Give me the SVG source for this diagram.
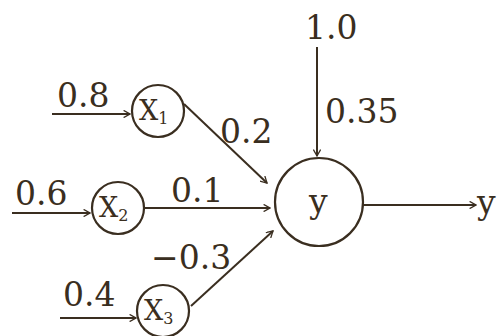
<svg xmlns="http://www.w3.org/2000/svg" width="504" height="336" viewBox="0 0 504 336">
<style>
.t{font-family:"DejaVu Serif","Liberation Serif",serif;font-size:33px;fill:#3a2e20}
.n{font-family:"DejaVu Serif","Liberation Serif",serif;font-size:27px;fill:#3a2e20}
.s{font-size:16px}
.c{fill:none;stroke:#3a2e20;stroke-width:2.2}
.l{fill:none;stroke:#3a2e20;stroke-width:2;marker-end:url(#ah)}
</style>
<defs>
<marker id="ah" viewBox="0 0 10 10" refX="9" refY="5" markerWidth="8" markerHeight="8" markerUnits="userSpaceOnUse" orient="auto">
<path d="M1,0.5 L9,5 L1,9.5" fill="none" stroke="#3a2e20" stroke-width="1.6"/>
</marker>
</defs>
<rect width="504" height="336" fill="#ffffff"/>
<g id="connectors">
<line class="l" x1="52" y1="114" x2="130" y2="114"/>
<line class="l" x1="12" y1="213" x2="90" y2="213"/>
<line class="l" x1="60" y1="318" x2="136" y2="318"/>
<line class="l" x1="184" y1="104" x2="267" y2="183"/>
<line class="l" x1="145" y1="208" x2="270" y2="208"/>
<line class="l" x1="191" y1="306" x2="273" y2="231"/>
<line class="l" x1="317" y1="47" x2="317" y2="156"/>
<line class="l" x1="363" y1="205" x2="476" y2="205"/>
<text class="t" x="57" y="107">0.8</text>
<text class="t" x="15" y="205">0.6</text>
<text class="t" x="63" y="306">0.4</text>
<text class="t" x="220" y="143">0.2</text>
<text class="t" x="171" y="202">0.1</text>
<text class="t" x="151" y="269">−0.3</text>
<text class="t" x="305" y="39">1.0</text>
<text class="t" x="325" y="123">0.35</text>
<text class="t" x="477" y="214">y</text>
</g>
<g id="x1">
<circle class="c" cx="158" cy="111" r="26"/>
<text class="n" x="139" y="120">X<tspan class="s" dy="4">1</tspan></text>
</g>
<g id="x2">
<circle class="c" cx="118" cy="208" r="26"/>
<text class="n" x="99" y="217">X<tspan class="s" dy="4">2</tspan></text>
</g>
<g id="x3">
<circle class="c" cx="163" cy="311" r="26"/>
<text class="n" x="144" y="320">X<tspan class="s" dy="4">3</tspan></text>
</g>
<g id="y">
<circle class="c" cx="319" cy="202" r="44"/>
<text class="t" x="309" y="213">y</text>
</g>
</svg>
